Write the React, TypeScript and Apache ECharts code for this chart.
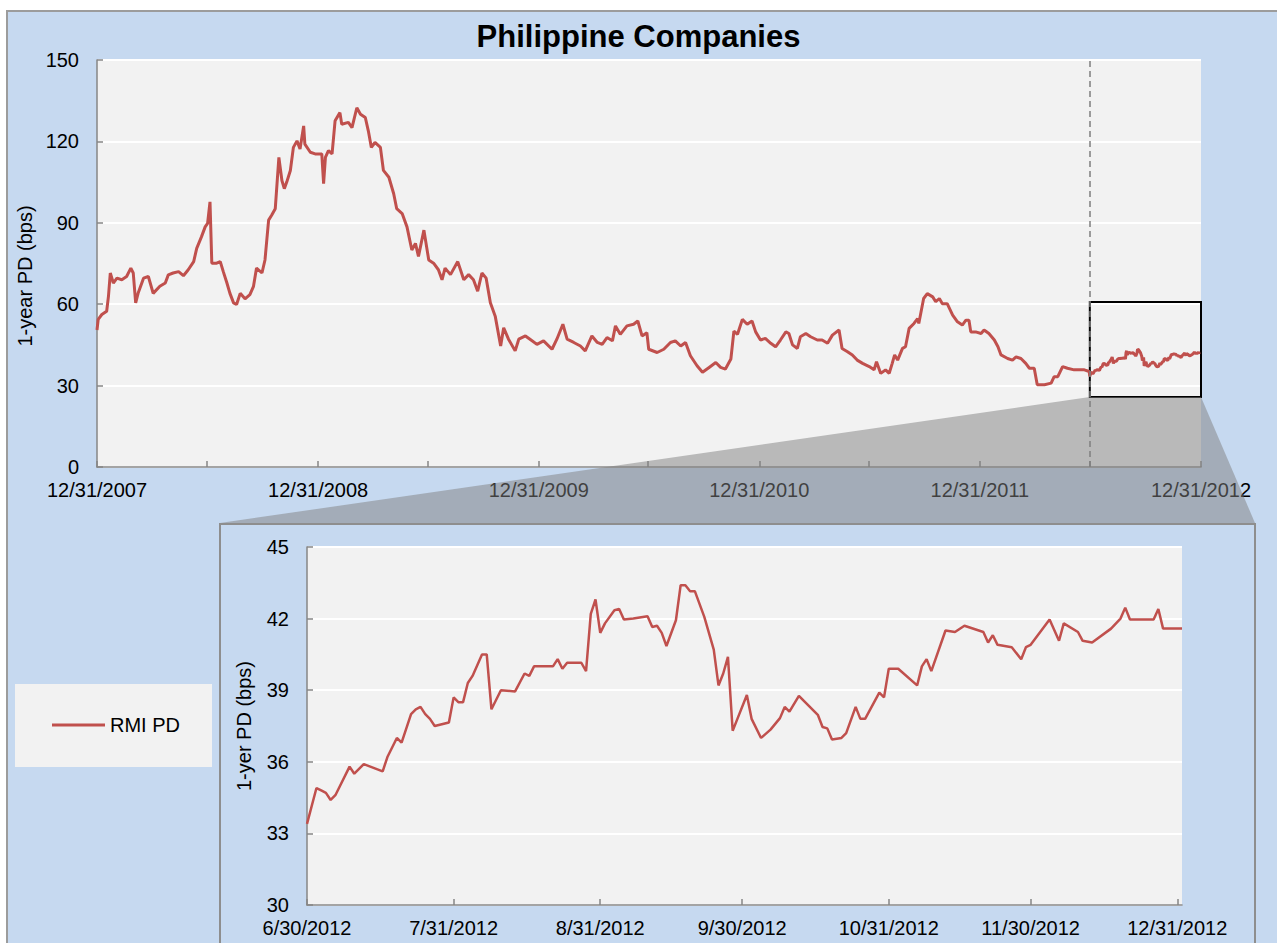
import React, { useEffect, useRef } from 'react';
import * as echarts from 'echarts';

const TITLE = 'Philippine Companies';
const SERIES_NAME = 'RMI PD';
const TOP_Y_NAME = '1-year PD (bps)';
const ZOOM_Y_NAME = '1-yer PD (bps)';
const TOP_START = '2007-12-31';
const TOP_END = '2012-12-31';
const ZOOM_START = '2012-06-30';
const ZOOM_END = '2013-01-01';

// Top chart: days since 12/31/2007 and 1-year PD (bps)
const topDays = [
  0, 2, 8, 16, 19, 22, 27, 33, 41, 49, 56, 60, 64, 68, 77, 85, 93, 104, 113, 118,
  126, 135, 143, 151, 160, 165, 173, 179, 183, 187, 190, 198, 204, 209, 215, 220, 226, 231, 237, 245,
  253, 259, 264, 273, 278, 284, 289, 295, 301, 306, 310, 314, 320, 325, 331, 336, 342, 344, 353, 361,
  372, 375, 378, 383, 389, 394, 402, 405, 416, 422, 430, 436, 444, 449, 454, 460, 469, 474, 483, 491,
  496, 505, 513, 521, 527, 532, 541, 549, 557, 565, 571, 576, 585, 597, 607, 615, 623, 630, 637, 644,
  651, 659, 668, 673, 681, 692, 698, 709, 720, 728, 739, 753, 761, 771, 778, 789, 800, 808, 819, 828,
  836, 844, 853, 858, 866, 877, 888, 895, 902, 910, 913, 927, 938, 949, 957, 966, 974, 982, 993, 1002,
  1013, 1024, 1032, 1040, 1049, 1054, 1060, 1068, 1076, 1084, 1090, 1098, 1106, 1115, 1123, 1131, 1140, 1145, 1151, 1159,
  1164, 1173, 1181, 1192, 1200, 1209, 1217, 1228, 1233, 1242, 1250, 1258, 1267, 1278, 1286, 1290, 1297, 1305, 1311, 1316,
  1320, 1325, 1333, 1338, 1344, 1352, 1358, 1360, 1368, 1374, 1383, 1388, 1394, 1399, 1407, 1416, 1424, 1432, 1438, 1443,
  1446, 1454, 1463, 1468, 1476, 1485, 1491, 1496, 1507, 1515, 1521, 1529, 1537, 1543, 1551, 1556, 1568, 1579, 1584, 1590,
  1598, 1606, 1617, 1625, 1634, 1642,
];
const topValues = [
  50.5, 54.4, 56.2, 57.4, 63, 71.5, 67.8, 69.6, 69, 70.2, 73.3, 71.5, 60.5, 64, 69.6, 70.2, 64, 66.6, 67.8, 70.8,
  71.5, 72, 70.5, 72.7, 75.7, 80.6, 84.9, 88.5, 89.8, 97.7, 75.1, 75.1, 75.7, 72, 67.8, 64, 60.5, 59.9, 64, 62,
  63.5, 66.6, 73.3, 71.5, 76.3, 91, 92.8, 95.2, 114.1, 105.6, 102.6, 105, 109.3, 117.8, 120.2, 117.2, 125.7, 119, 116, 115.4,
  115.4, 104.4, 114.1, 116.6, 115.4, 127.6, 130.6, 126.3, 127, 125.1, 132.4, 130, 128.8, 123.9, 117.8, 119.6, 117.8, 109.3, 106.8, 100.7,
  95.2, 93.4, 88.5, 80, 82.4, 77.6, 87.3, 76.3, 75.1, 72.7, 69, 73.3, 70.9, 75.7, 69, 70.9, 69, 64.8, 71.5, 69.6,
  60.5, 55.6, 44.6, 51.3, 47.1, 42.8, 47.1, 48.3, 46.5, 45.2, 46.5, 43.4, 47.1, 52.6, 47.1, 45.9, 44.6, 42.8, 48.3, 45.9,
  45.2, 47.7, 46.5, 52, 48.9, 52, 52.6, 53.8, 48.3, 49.5, 43.4, 42.2, 43.4, 45.9, 46.5, 44.6, 45.9, 41, 37.3, 34.9,
  36.7, 38.5, 36.7, 36.1, 39.8, 50.1, 48.9, 54.4, 52.6, 53.8, 49.8, 46.8, 47.4, 45.6, 44.3, 46.8, 49.8, 49.2, 45, 43.7,
  48, 49.2, 48, 46.8, 46.8, 45.6, 48.6, 50.5, 43.7, 42.5, 41.3, 39.4, 38.2, 37, 35.8, 38.8, 34.5, 35.8, 34.5, 38.2,
  41.3, 39.4, 43.7, 44.3, 51.1, 52.9, 54.7, 52.9, 62.1, 63.9, 62.7, 60.9, 62.1, 60.2, 60.2, 56, 53.5, 52.3, 54.1, 54.1,
  49.8, 49.8, 49.2, 50.5, 49.2, 46.8, 44.3, 41.3, 40, 39.4, 40.6, 40, 38.2, 36.4, 36.4, 30.3, 30.3, 30.9, 33.3, 33.3,
  37, 36.4, 35.8, 35.8, 35.8, 35.2,
];

// Zoomed chart: days since 6/30/2012 and 1-year PD (bps)
const zoomDays = [
  0, 2, 3, 4, 5, 6, 9, 10, 12, 16, 17, 18, 19, 20, 22, 23, 24, 25, 26, 27,
  30, 31, 32, 33, 34, 35, 37, 38, 39, 41, 44, 46, 47, 48, 52, 53, 54, 55, 58, 59,
  60, 61, 62, 63, 65, 66, 67, 69, 72, 73, 74, 75, 76, 78, 79, 80, 81, 82, 84, 86,
  87, 88, 89, 90, 91, 93, 94, 96, 98, 100, 101, 102, 104, 108, 109, 110, 111, 113, 114, 116,
  117, 118, 121, 122, 123, 125, 129, 130, 131, 132, 135, 137, 139, 143, 144, 145, 146, 149, 151, 152,
  153, 157, 159, 160, 163, 164, 166, 170, 172, 173, 174, 179, 180, 181, 185,
];
const zoomValues = [
  33.4, 34.9, 34.8, 34.7, 34.4, 34.6, 35.8, 35.5, 35.9, 35.6, 36.2, 36.6, 37.0, 36.8, 38.0, 38.2, 38.3, 38.0, 37.8, 37.5,
  37.65, 38.7, 38.5, 38.5, 39.3, 39.6, 40.5, 40.5, 38.2, 39.0, 38.95, 39.7, 39.6, 40.0, 40.0, 40.3, 39.9, 40.15, 40.15, 39.8,
  42.2, 42.8, 41.4, 41.8, 42.35, 42.4, 41.96, 42.0, 42.1, 41.65, 41.7, 41.4, 40.85, 41.93, 43.4, 43.4, 43.15, 43.15, 42.07, 40.7,
  39.2, 39.7, 40.4, 37.3, 37.8, 38.8, 37.8, 37.0, 37.35, 37.83, 38.3, 38.1, 38.76, 37.97, 37.46, 37.4, 36.93, 37.0, 37.2, 38.3,
  37.8, 37.8, 38.9, 38.7, 39.9, 39.9, 39.2, 40.0, 40.3, 39.8, 41.5, 41.44, 41.7, 41.44, 41.0, 41.3, 40.9, 40.8, 40.3, 40.8,
  40.9, 41.96, 41.07, 41.8, 41.44, 41.07, 41.0, 41.58, 42.0, 42.46, 41.96, 41.96, 42.4, 41.58, 41.58,
];

// Axis ticks and labels
const topTickDates = [
  '2007-12-31', '2008-06-30', '2008-12-31', '2009-06-30', '2009-12-31', '2010-06-30',
  '2010-12-31', '2011-06-30', '2011-12-31', '2012-06-30', '2012-12-31',
];
const topLabelDates = ['2007-12-31', '2008-12-31', '2009-12-31', '2010-12-31', '2011-12-31', '2012-12-31'];
const zoomTickDates = ['2012-06-30', '2012-07-31', '2012-08-31', '2012-09-30', '2012-10-31', '2012-11-30', '2012-12-31'];
const topYRange = [0, 150, 30];
const zoomYRange = [30, 45, 3];
// Highlight box on the top chart (bps)
const boxY = [25.8, 60.8];

const DAY = 86400000;
const dayOffset = (d: string, base: string) => Math.round((Date.parse(d) - Date.parse(base)) / DAY);
const fmtDay = (base: string, day: number) => {
  const dt = new Date(Date.parse(base) + Math.round(day) * DAY);
  return `${dt.getUTCMonth() + 1}/${dt.getUTCDate()}/${dt.getUTCFullYear()}`;
};

const FONT = '"Liberation Sans", Arial, sans-serif';
const RED = '#c0504d';
const AXIS_GRAY = '#868686';

export default function App() {
  const ref = useRef<HTMLDivElement>(null);

  useEffect(() => {
    if (!ref.current) return;
    const chart = echarts.init(ref.current, undefined, { renderer: 'svg' });

    const zoomOffset = dayOffset(ZOOM_START, TOP_START);
    const topMax = dayOffset(TOP_END, TOP_START);
    const zoomMax = dayOffset(ZOOM_END, ZOOM_START);

    const topData: [number, number][] = topDays.map((d, i) => [d, topValues[i]]);
    zoomDays.forEach((d, i) => {
      if (d + zoomOffset <= topMax) topData.push([d + zoomOffset, zoomValues[i]]);
    });
    const zoomData: [number, number][] = zoomDays.map((d, i) => [d, zoomValues[i]]);

    const topTicks = topTickDates.map((d) => dayOffset(d, TOP_START));
    const topLabels = topLabelDates.map((d) => dayOffset(d, TOP_START));
    const zoomTicks = zoomTickDates.map((d) => dayOffset(d, ZOOM_START));

    const axisLine = { show: true, lineStyle: { color: AXIS_GRAY, width: 1.5 } };
    const tick = { show: true, inside: true, length: 6, lineStyle: { color: AXIS_GRAY, width: 1.5 } };
    const labelStyle = { fontSize: 20, color: '#000', fontFamily: FONT };

    const baseGraphics: any[] = [
      {
        type: 'rect', id: 'bg', z: -1, z2: 0, silent: true,
        shape: { x: 7, y: 11, width: 1300, height: 960 },
        style: { fill: '#c6d9f0', stroke: '#9c9c9c', lineWidth: 2 },
      },
      {
        type: 'rect', id: 'panel', z: -1, z2: 1, silent: true,
        shape: { x: 220, y: 524, width: 1035, height: 450 },
        style: { fill: '#c6d9f0', stroke: '#8e8e8e', lineWidth: 2 },
      },
      {
        type: 'rect', id: 'legendBox', z: -1, z2: 2, silent: true,
        shape: { x: 15, y: 684, width: 197, height: 83 },
        style: { fill: '#f2f2f2' },
      },
    ];

    chart.setOption({
      animation: false,
      backgroundColor: '#ffffff',
      textStyle: { fontFamily: FONT },
      title: {
        text: TITLE, left: 'center', top: 21, padding: 0,
        textStyle: { fontSize: 31, fontWeight: 'bold', color: '#000', fontFamily: FONT },
      },
      legend: {
        data: [{ name: SERIES_NAME, icon: 'rect' }],
        left: 52, top: 715, padding: 0,
        itemWidth: 53, itemHeight: 3,
        textStyle: { fontSize: 20, color: '#000', fontFamily: FONT },
      },
      grid: [
        { left: 97, top: 60, width: 1104, height: 407, show: true, backgroundColor: '#f2f2f2', borderWidth: 0 },
        { left: 307, top: 547, width: 875, height: 358, show: true, backgroundColor: '#f2f2f2', borderWidth: 0 },
      ],
      xAxis: [
        {
          type: 'value', gridIndex: 0, min: 0, max: topMax,
          axisLine, axisTick: { ...tick, customValues: topTicks },
          axisLabel: {
            ...labelStyle, margin: 13, customValues: topLabels,
            formatter: (v: number) => fmtDay(TOP_START, v),
          },
          splitLine: { show: false },
        },
        {
          type: 'value', gridIndex: 1, min: 0, max: zoomMax,
          axisLine, axisTick: { ...tick, customValues: zoomTicks },
          axisLabel: {
            ...labelStyle, margin: 13, customValues: zoomTicks,
            formatter: (v: number) => fmtDay(ZOOM_START, v),
          },
          splitLine: { show: false },
        },
      ],
      yAxis: [
        {
          type: 'value', gridIndex: 0, min: topYRange[0], max: topYRange[1], interval: topYRange[2],
          axisLine, axisTick: tick,
          axisLabel: { ...labelStyle, margin: 18 },
          splitLine: { show: true, lineStyle: { color: '#ffffff', width: 2 } },
          name: TOP_Y_NAME, nameLocation: 'middle', nameGap: 56,
          nameTextStyle: { ...labelStyle, padding: [0, 25, 0, 0] },
        },
        {
          type: 'value', gridIndex: 1, min: zoomYRange[0], max: zoomYRange[1], interval: zoomYRange[2],
          axisLine, axisTick: tick,
          axisLabel: { ...labelStyle, margin: 18 },
          splitLine: { show: true, lineStyle: { color: '#ffffff', width: 2 } },
          name: ZOOM_Y_NAME, nameLocation: 'middle', nameGap: 53,
          nameTextStyle: { ...labelStyle },
        },
      ],
      series: [
        {
          name: SERIES_NAME, type: 'line', xAxisIndex: 0, yAxisIndex: 0,
          data: topData, showSymbol: false, symbol: 'none',
          lineStyle: { color: RED, width: 3 }, itemStyle: { color: RED },
          markLine: {
            silent: true, symbol: 'none', label: { show: false },
            lineStyle: { color: '#7f7f7f', type: [6, 4], width: 1.5 },
            data: [{ xAxis: zoomOffset }],
          },
          markArea: {
            silent: true, label: { show: false },
            itemStyle: { color: 'rgba(0,0,0,0)', borderColor: '#000', borderWidth: 2 },
            data: [[{ xAxis: zoomOffset, yAxis: boxY[0] }, { xAxis: topMax, yAxis: boxY[1] }]],
          },
        },
        {
          name: SERIES_NAME, type: 'line', xAxisIndex: 1, yAxisIndex: 1,
          data: zoomData, showSymbol: false, symbol: 'none',
          lineStyle: { color: RED, width: 2.5 }, itemStyle: { color: RED },
        },
      ],
      graphic: { elements: baseGraphics },
    });

    const p1 = chart.convertToPixel({ gridIndex: 0 }, [zoomOffset, boxY[0]]) as number[];
    const p2 = chart.convertToPixel({ gridIndex: 0 }, [topMax, boxY[0]]) as number[];
    chart.setOption({
      graphic: {
        elements: [
          ...baseGraphics,
          {
            type: 'polygon', id: 'link', z: 100, silent: true,
            shape: { points: [[p1[0], p1[1]], [p2[0], p2[1]], [1255, 523], [220, 523]] },
            style: { fill: 'rgba(128,128,128,0.5)' },
          },
        ],
      },
    });

    return () => chart.dispose();
  }, []);

  return (
    <div
      ref={ref}
      style={{ position: 'fixed', left: 0, top: 0, width: 1277, height: 943 }}
    />
  );
}
